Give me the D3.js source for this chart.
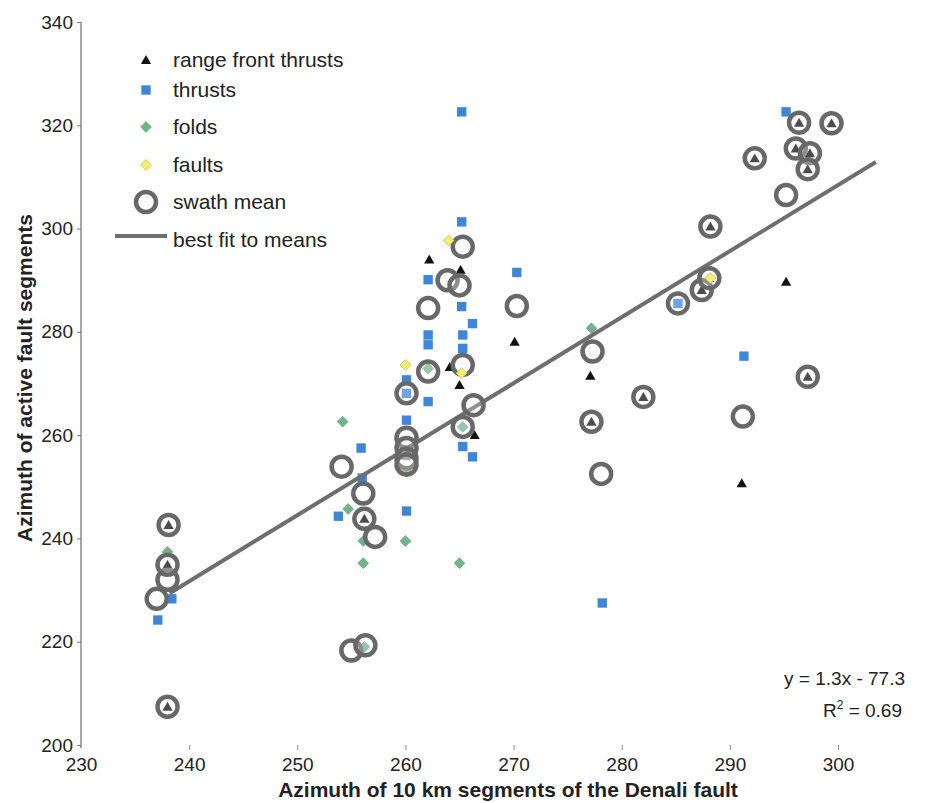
<!DOCTYPE html>
<meta charset="utf-8">
<script src="https://d3js.org/d3.v7.min.js"></script>
<style>
  body { margin: 0; background: #fff; }
  text { font-family: "Liberation Sans", Arial, sans-serif; fill: #222; }
  .axis text { font-size: 19px; }
  .title { font-size: 21px; font-weight: bold; }
</style>
<div id="chart"></div>
<script>
  // values: [azimuth of Denali segment, azimuth of active fault]
  const rangeFront = [[238.1, 242.6], [238.0, 207.4], [238.0, 234.9], [256.2, 243.8], [260.1, 257.1],
    [262.2, 294.0], [264.1, 273.2], [265.1, 292.0], [265.0, 269.7], [266.4, 260.0], [270.1, 278.1],
    [277.1, 271.5], [277.2, 262.6], [282.0, 267.4], [287.4, 288.1], [288.1, 290.4], [288.2, 300.4],
    [291.1, 250.7], [292.3, 313.6], [295.2, 289.7], [296.1, 315.5], [296.4, 320.5], [297.2, 311.5],
    [297.4, 314.6], [297.2, 271.3], [299.4, 320.4]]
  const thrusts = [[237.1, 224.2], [238.4, 228.3], [253.8, 244.3], [255.9, 257.5], [256.0, 251.7],
    [260.1, 270.7], [260.1, 268.1], [260.1, 262.9], [260.1, 245.3], [262.1, 290.1], [262.1, 279.4],
    [262.1, 277.5], [262.1, 266.5], [265.2, 322.6], [265.2, 301.3], [265.2, 284.9], [265.3, 279.4],
    [265.3, 276.8], [265.3, 257.8], [266.2, 281.6], [266.2, 255.8], [270.3, 291.5], [278.2, 227.5],
    [285.2, 285.5], [291.3, 275.3], [295.2, 322.6]]
  const folds = [[238.0, 237.4], [254.2, 262.6], [254.7, 245.7], [256.1, 239.5], [256.1, 235.2],
    [256.2, 219.0], [260.1, 252.9], [260.0, 239.5], [262.1, 272.9], [265.3, 261.6], [265.0, 235.2],
    [277.2, 280.7]]
  const faults = [[260.0, 273.6], [264.0, 297.7], [265.2, 272.0], [288.2, 290.4]]
  const swathMeans = [[237.0, 228.3], [238.0, 232.0], [238.0, 234.9], [238.1, 242.6], [238.0, 207.4],
    [254.1, 253.9], [255.0, 218.3], [256.3, 219.3], [256.1, 248.7], [256.2, 243.8], [257.2, 240.3],
    [260.1, 268.1], [260.1, 259.5], [260.1, 257.5], [260.1, 255.5], [260.1, 254.3], [262.1, 284.6],
    [262.1, 272.3], [263.9, 290.0], [265.0, 289.0], [265.3, 296.5], [265.3, 273.6], [265.3, 261.6],
    [266.3, 265.8], [270.3, 285.0], [277.3, 276.2], [277.2, 262.6], [278.1, 252.5], [282.0, 267.4],
    [285.2, 285.5], [287.4, 288.1], [288.1, 290.4], [288.2, 300.4], [291.2, 263.6], [292.3, 313.6],
    [295.2, 306.5], [296.1, 315.5], [296.4, 320.5], [297.4, 314.6], [297.2, 311.5], [297.2, 271.3],
    [299.4, 320.4]]
  const fitLine = [[238.2, 229.4], [303.5, 312.9]]

  const xTicks = [230, 240, 250, 260, 270, 280, 290, 300]
  const yTicks = [200, 220, 240, 260, 280, 300, 320, 340]
  const legendLabels = ["range front thrusts", "thrusts", "folds", "faults", "swath mean", "best fit to means"]

  const width = 940, height = 803

  const svg = d3.select("#chart")
    .append("svg")
    .attr("width", width)
    .attr("height", height)

  const x = d3.scaleLinear().domain([230, 300]).range([81, 838])
  const y = d3.scaleLinear().domain([200, 340]).range([745, 22])

  // y axis
  const yAxis = svg.append("g")
    .attr("class", "axis")
    .attr("transform", "translate(81,0)")
    .call(d3.axisLeft(y).tickValues(yTicks).tickSize(4).tickPadding(4).tickSizeOuter(0))
  yAxis.select(".domain").attr("stroke", "#8a8a8a").attr("stroke-width", 1.5)
    .attr("d", `M0,${y(340)}V${y(200) + 3}`)
  yAxis.selectAll(".tick line").attr("stroke", "#777")

  // x axis (no baseline, only short ticks)
  const xAxis = svg.append("g")
    .attr("class", "axis")
    .attr("transform", `translate(0,${y(200)})`)
    .call(d3.axisBottom(x).tickValues(xTicks).tickSize(5).tickPadding(8))
  xAxis.select(".domain").remove()
  xAxis.selectAll(".tick line").attr("stroke", "#888")
  xAxis.selectAll(".tick").filter(d => d === 230).select("line").remove()

  // axis titles
  svg.append("text").attr("class", "title")
    .attr("x", 508).attr("y", 797)
    .attr("text-anchor", "middle")
    .text("Azimuth of 10 km segments of the Denali fault")
  svg.append("text").attr("class", "title")
    .attr("transform", "translate(32,378) rotate(-90)")
    .attr("text-anchor", "middle")
    .text("Azimuth of active fault segments")

  const tri = d3.symbol().type(d3.symbolTriangle).size(46)
  const sq = d3.symbol().type(d3.symbolSquare).size(88)
  const dia = d3.symbol().type(d3.symbolSquare).size(58)

  const colors = { thrust: "#3f86d8", fold: "#75b48b", fault: "#f2ee72", mean: "#686868" }

  // thrusts
  svg.append("g").selectAll("path")
    .data(thrusts).join("path")
    .attr("d", sq)
    .attr("transform", d => `translate(${x(d[0])},${y(d[1])})`)
    .attr("fill", colors.thrust)

  // folds
  svg.append("g").selectAll("path")
    .data(folds).join("path")
    .attr("d", dia)
    .attr("transform", d => `translate(${x(d[0])},${y(d[1])}) rotate(45)`)
    .attr("fill", colors.fold)
    .attr("stroke", "#5f9a73").attr("stroke-width", 0.6)

  // range front thrusts
  svg.append("g").selectAll("path")
    .data(rangeFront).join("path")
    .attr("d", tri)
    .attr("transform", d => `translate(${x(d[0])},${y(d[1]) + 1})`)
    .attr("fill", "#111")

  // best fit line
  svg.append("path")
    .datum(fitLine)
    .attr("d", d3.line().x(d => x(d[0])).y(d => y(d[1])))
    .attr("stroke", "#6e6e6e")
    .attr("stroke-width", 4)
    .attr("fill", "none")

  // swath means (translucent white fill greys the triangles inside them)
  svg.append("g").selectAll("circle")
    .data(swathMeans).join("circle")
    .attr("cx", d => x(d[0]))
    .attr("cy", d => y(d[1]))
    .attr("r", 10)
    .attr("fill", "rgba(255,255,255,0.25)")
    .attr("stroke", colors.mean)
    .attr("stroke-width", 4.5)

  // faults
  svg.append("g").selectAll("path")
    .data(faults).join("path")
    .attr("d", dia)
    .attr("transform", d => `translate(${x(d[0])},${y(d[1])}) rotate(45)`)
    .attr("fill", colors.fault)
    .attr("stroke", "#c9c24c").attr("stroke-width", 0.8)

  // legend
  const legend = svg.append("g").attr("transform", "translate(146,0)")
  const rowY = [60, 90, 127, 165, 202, 236]
  legend.append("path").attr("d", tri).attr("transform", `translate(0,${rowY[0] + 1})`).attr("fill", "#111")
  legend.append("path").attr("d", sq).attr("transform", `translate(0,${rowY[1]})`).attr("fill", colors.thrust)
  legend.append("path").attr("d", dia).attr("transform", `translate(0,${rowY[2]}) rotate(45)`)
    .attr("fill", colors.fold).attr("stroke", "#5f9a73").attr("stroke-width", 0.6)
  legend.append("path").attr("d", dia).attr("transform", `translate(0,${rowY[3]}) rotate(45)`)
    .attr("fill", colors.fault).attr("stroke", "#c9c24c").attr("stroke-width", 0.8)
  legend.append("circle").attr("cy", rowY[4]).attr("r", 10)
    .attr("fill", "none").attr("stroke", colors.mean).attr("stroke-width", 4.5)
  legend.append("line").attr("x1", -31).attr("x2", 21).attr("y1", rowY[5]).attr("y2", rowY[5])
    .attr("stroke", "#6e6e6e").attr("stroke-width", 4)
  legend.selectAll(".lab")
    .data(legendLabels).join("text")
    .attr("class", "lab")
    .attr("x", 27)
    .attr("y", (d, i) => rowY[i] + (i === 5 ? 4 : 0))
    .attr("dy", "0.35em")
    .style("font-size", "21px")
    .text(d => d)

  // regression label
  svg.append("text")
    .attr("x", 905).attr("y", 685)
    .attr("text-anchor", "end")
    .style("font-size", "19px")
    .text("y = 1.3x - 77.3")
  const r2 = svg.append("text")
    .attr("x", 902).attr("y", 717)
    .attr("text-anchor", "end")
    .style("font-size", "19px")
  r2.append("tspan").text("R")
  r2.append("tspan").attr("dy", -8).style("font-size", "12px").text("2")
  r2.append("tspan").attr("dy", 8).text(" = 0.69")
</script>
